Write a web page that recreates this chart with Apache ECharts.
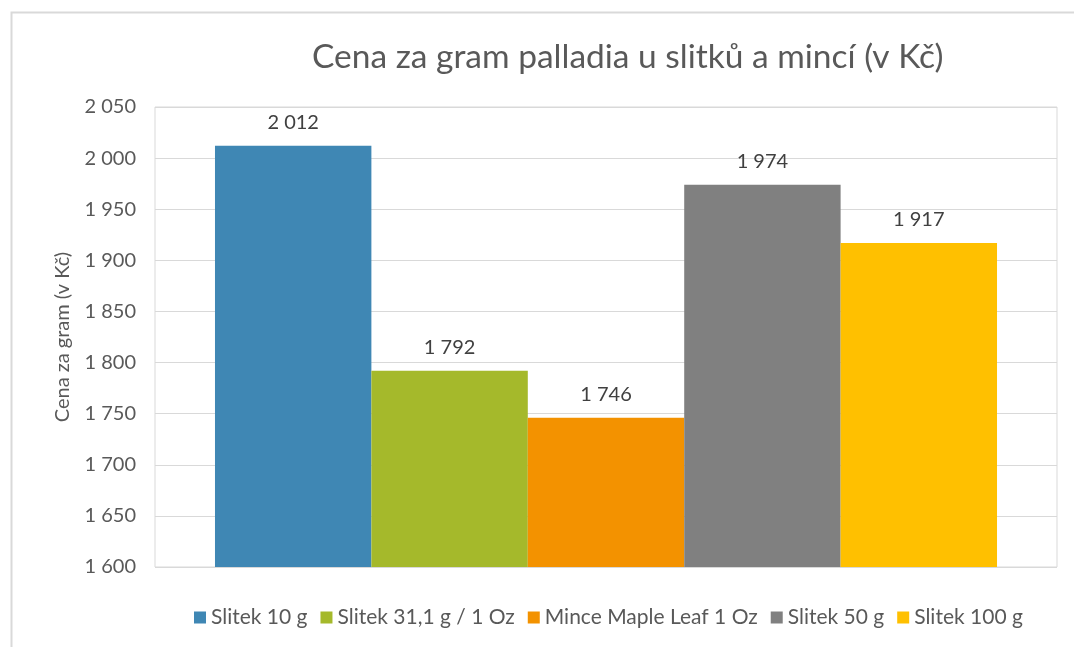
<!DOCTYPE html>
<html>
<head>
<meta charset="utf-8">
<script src="https://cdn.jsdelivr.net/npm/echarts@6/dist/echarts.min.js"></script>
<style>
html, body { margin: 0; padding: 0; background: #fff; }
#chartmain { width: 1074px; height: 647px; }
</style>
</head>
<body>
<div id="chartmain"></div>
<script>
var names = ['Slitek 10 g', 'Slitek 31,1 g / 1 Oz', 'Mince Maple Leaf 1 Oz', 'Slitek 50 g', 'Slitek 100 g'];
var prices = [2012, 1792, 1746, 1974, 1917];
var colors = ['#3f87b4', '#a5b92b', '#f39200', '#808080', '#ffc000'];
var category = [''];

function fmt(v) {
	return String(v).replace(/\B(?=(\d{3})+(?!\d))/g, ' ');
}

var font = 'Lato';
var series = [];
for (var i = 0; i < names.length; i++) {
	series.push({
		name : names[i],
		type : 'bar',
		data : [prices[i]],
		barGap : '0%',
		barCategoryGap : '13.3%',
		itemStyle : { color : colors[i] },
		label : {
			show : true,
			position : 'top',
			distance : 13,
			color : '#404040',
			fontFamily : font,
			fontSize : 20,
			formatter : function(p) { return fmt(p.value); }
		}
	});
}

var option = {
	animation : false,
	title : {
		text : 'Cena za gram palladia u slitků a mincí (v Kč)',
		left : 307,
		top : 35,
		textStyle : { color : '#595959', fontFamily : font, fontSize : 33.5, fontWeight : 'normal' }
	},
	legend : {
		bottom : 14,
		left : 189,
		itemWidth : 12,
		itemHeight : 12,
		itemGap : 13,
		icon : 'rect',
		textStyle : { color : '#595959', fontFamily : font, fontSize : 21 },
		data : names
	},
	grid : {
		left : 155,
		right : 17,
		top : 107,
		bottom : 80,
		show : true,
		borderColor : '#d9d9d9',
		borderWidth : 1
	},
	xAxis : {
		type : 'category',
		data : category,
		axisLine : { show : false },
		axisTick : { show : false },
		axisLabel : { show : false }
	},
	yAxis : {
		type : 'value',
		min : 1600,
		max : 2050,
		interval : 50,
		name : 'Cena za gram (v Kč)',
		nameLocation : 'middle',
		nameGap : 82,
		nameTextStyle : { color : '#595959', fontFamily : font, fontSize : 20 },
		axisLabel : {
			color : '#595959',
			fontFamily : font,
			fontSize : 20,
			margin : 19,
			formatter : fmt
		},
		splitLine : { lineStyle : { color : '#d9d9d9', width : 1 } }
	},
	graphic : [{
		type : 'polyline',
		shape : { points : [[11.5, 660], [11.5, 12.5], [1080, 12.5]] },
		style : { stroke : '#d9d9d9', lineWidth : 2, fill : null },
		silent : true
	}],
	series : series
};

var myChart = echarts.init(document.getElementById('chartmain'));
myChart.setOption(option);
</script>
</body>
</html>
